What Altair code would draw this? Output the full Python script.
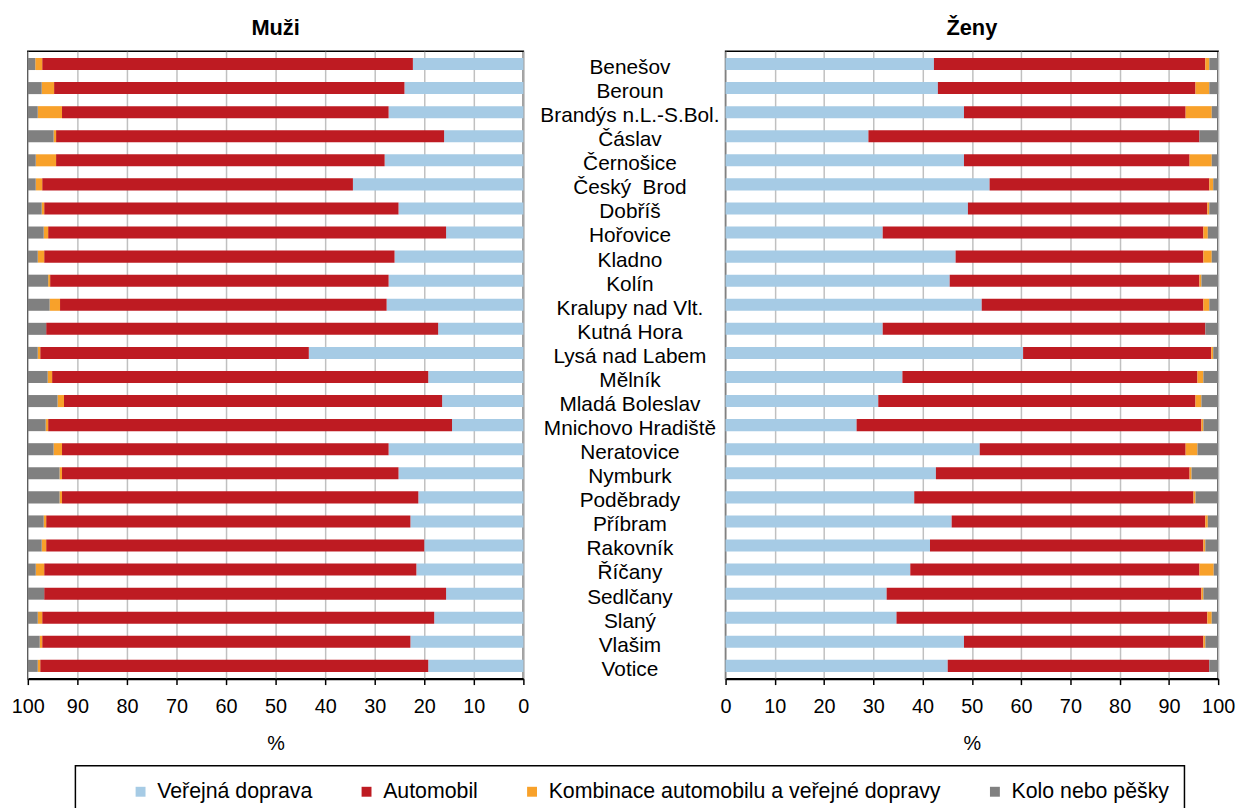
import altair as alt
import pandas as pd

FONT = "Liberation Sans"

okresy = ["Benešov", "Beroun", "Brandýs n.L.-S.Bol.", "Čáslav", "Černošice", "Český\u00a0 Brod",
          "Dobříš", "Hořovice", "Kladno", "Kolín", "Kralupy nad Vlt.", "Kutná Hora",
          "Lysá nad Labem", "Mělník", "Mladá Boleslav", "Mnichovo Hradiště", "Neratovice",
          "Nymburk", "Poděbrady", "Příbram", "Rakovník", "Říčany", "Sedlčany", "Slaný",
          "Vlašim", "Votice"]

druhy = ["Veřejná doprava", "Automobil", "Kombinace automobilu a veřejné dopravy", "Kolo nebo pěšky"]
barvy = ["#a6cbe5", "#be1b22", "#f8a12a", "#808080"]

muzi_verejna = [22.3, 24.0, 27.2, 16.0, 28.0, 34.4, 25.2, 15.6, 26.0, 27.2, 27.6, 17.2, 43.3,
                19.2, 16.4, 14.4, 27.2, 25.2, 21.2, 22.8, 20.0, 21.6, 15.6, 18.0, 22.8, 19.2]
muzi_auto = [74.8, 70.7, 65.9, 78.3, 66.3, 62.7, 71.5, 80.3, 70.7, 68.3, 65.9, 79.1, 54.2,
             75.9, 76.3, 81.5, 65.9, 67.9, 71.9, 73.5, 76.3, 75.1, 81.1, 79.1, 74.3, 78.3]
muzi_komb = [1.4, 2.5, 4.9, 0.5, 4.1, 1.3, 0.5, 0.9, 1.3, 0.4, 2.1, 0.0, 0.5,
             0.9, 1.3, 0.5, 1.7, 0.5, 0.5, 0.5, 0.9, 1.7, 0.0, 0.9, 0.5, 0.5]
muzi_kolo = [1.5, 2.8, 2.0, 5.2, 1.6, 1.6, 2.8, 3.2, 2.0, 4.1, 4.4, 3.7, 2.0,
             4.0, 6.0, 3.6, 5.2, 6.4, 6.4, 3.2, 2.8, 1.6, 3.3, 2.0, 2.4, 2.0]

zeny_verejna = [42.3, 43.1, 48.4, 29.0, 48.4, 53.6, 49.2, 31.9, 46.7, 45.5, 52.0, 31.9, 60.4,
                35.9, 31.0, 26.6, 51.6, 42.7, 38.3, 45.9, 41.5, 37.5, 32.7, 34.7, 48.4, 45.1]
zeny_auto = [55.1, 52.3, 45.0, 67.2, 45.8, 44.6, 48.6, 65.1, 50.3, 50.7, 45.0, 65.5, 38.2,
             59.9, 64.4, 70.0, 41.8, 51.5, 56.7, 51.5, 55.5, 58.7, 63.9, 63.1, 48.6, 53.1]
zeny_komb = [0.8, 2.8, 5.3, 0.0, 4.5, 0.8, 0.4, 0.9, 1.7, 0.4, 1.2, 0.0, 0.4,
             1.2, 1.2, 0.4, 2.4, 0.4, 0.4, 0.5, 0.4, 2.9, 0.4, 0.9, 0.4, 0.0]
zeny_kolo = [1.8, 1.8, 1.3, 3.8, 1.3, 1.0, 1.8, 2.1, 1.3, 3.4, 1.8, 2.6, 1.0,
             3.0, 3.4, 3.0, 4.2, 5.4, 4.6, 2.1, 2.6, 0.9, 3.0, 1.3, 2.6, 1.8]

osa_hodnoty = [0, 10, 20, 30, 40, 50, 60, 70, 80, 90, 100]


def long_table(series):
    rows = []
    for k, vals in enumerate(series):
        for okres, v in zip(okresy, vals):
            rows.append({"okres": okres, "druh": druhy[k], "poradi": k, "hodnota": v})
    return pd.DataFrame(rows)


df_m = long_table([muzi_verejna, muzi_auto, muzi_komb, muzi_kolo])
df_z = long_table([zeny_verejna, zeny_auto, zeny_komb, zeny_kolo])

legend = alt.Legend(
    title="\u00a0", titleOrient="left", titlePadding=40, titleFontSize=10,
    orient="none", legendX=48, legendY=721, direction="horizontal", columns=4,
    symbolType="square", symbolSize=100, symbolStrokeWidth=0, symbolOpacity=1,
    labelFontSize=21.5, labelFont=FONT, labelColor="black", labelOffset=6, labelLimit=600,
    columnPadding=43, padding=15, strokeColor="black",
)

x_axis = alt.Axis(
    values=osa_hodnoty, title="%", labelFontSize=20, labelFont=FONT, labelColor="black",
    labelFlush=False, labelPadding=12, tickSize=6, tickColor="black", tickWidth=1.5,
    domainColor="black", domainWidth=2, grid=True, gridColor="#c0c0c0", gridWidth=1.5,
    titleFontSize=20, titleFont=FONT, titleFontWeight="normal", titleColor="black",
    titlePadding=18,
)

y_axis = alt.Axis(
    title=None, orient="left", labelAlign="center", labelBaseline="middle",
    labelPadding=97, labelOffset=4, ticks=False, domain=False, grid=False,
    labelFontSize=21, labelFont=FONT, labelColor="black", labelLimit=400,
    labelOverlap=False,
)


def panel(df, title, reverse, width, yax):
    return alt.Chart(df).mark_bar().encode(
        x=alt.X("hodnota:Q", stack="zero",
                scale=alt.Scale(domain=[0, 100], reverse=reverse, nice=False),
                axis=x_axis),
        y=alt.Y("okres:N", sort=okresy,
                scale=alt.Scale(paddingInner=0.5, paddingOuter=0.28), axis=yax),
        color=alt.Color("druh:N", scale=alt.Scale(domain=druhy, range=barvy), legend=legend),
        order=alt.Order("poradi:Q"),
    ).properties(
        width=width, height=633,
        title=alt.TitleParams(title, fontSize=22, fontWeight="bold", font=FONT, color="black",
                              anchor="middle", frame="group", offset=11),
    )


left = panel(df_m, "Muži", True, 500, None)
right = panel(df_z, "Ženy", False, 497, y_axis)

chart = alt.hconcat(left, right, spacing=204, bounds="flush").properties(
    padding={"left": 2, "top": 5, "right": 0, "bottom": 0}
).configure_view(stroke="black", strokeWidth=1.5).configure_legend(strokeWidth=1.5)

chart.save("out.html", embed_options={"renderer": "svg", "actions": False})
